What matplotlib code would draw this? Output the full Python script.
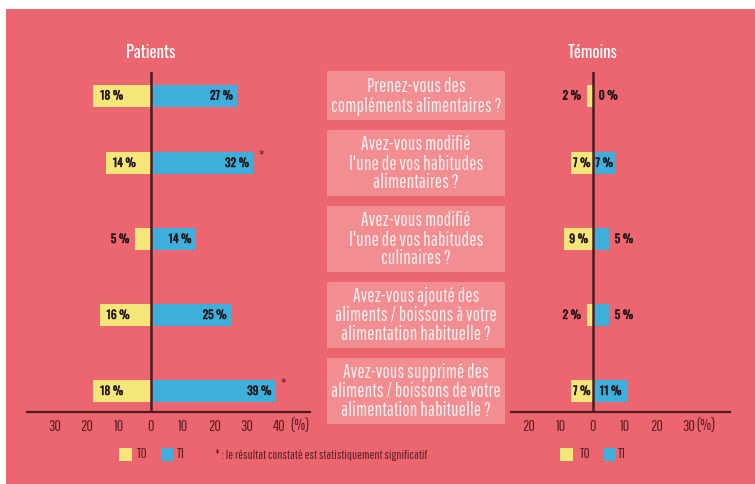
import matplotlib
matplotlib.use('Agg')
import matplotlib.pyplot as plt
import matplotlib.patheffects as pe
from matplotlib.patches import Rectangle

# data
questions = [
    "Prenez-vous des\ncompléments alimentaires ?",
    "Avez-vous modifié\nl'une de vos habitudes\nalimentaires ?",
    "Avez-vous modifié\nl'une de vos habitudes\nculinaires ?",
    "Avez-vous ajouté des\naliments / boissons à votre\nalimentation habituelle ?",
    "Avez-vous supprimé des\naliments / boissons de votre\nalimentation habituelle ?",
]
patients_t0 = [18, 14, 5, 16, 18]
patients_t1 = [27, 32, 14, 25, 39]
patients_sig = [False, True, False, False, True]
temoins_t0 = [2, 7, 9, 2, 7]
temoins_t1 = [0, 7, 5, 5, 11]

BG = '#EC6670'
BOX = '#F28E91'
YEL = '#F5E67A'
BLU = '#3EAEDB'
DARK = '#4B1C22'
TICK = '#5B1E25'
LABEL = '#24161A'

LIGHT = ['Pathway Gothic One', 'Roboto Condensed', 'DejaVu Sans']
BOLD = ['Oswald', 'Roboto Condensed', 'DejaVu Sans']

W, H = 755, 484
fig = plt.figure(figsize=(W / 100, H / 100), dpi=100)
fig.patch.set_facecolor('white')


def fx(x):
    return x / W


def fy(y):
    return 1 - y / H


fig.add_artist(Rectangle((fx(6), 0), 1 - fx(6), fy(9), transform=fig.transFigure,
                         facecolor=BG, edgecolor='none', zorder=0))

# question boxes stacked from the top, rows follow their centres
top = 71
rows = []
for q in questions:
    n = q.count('\n') + 1
    h = 17 * n + 15
    fig.add_artist(Rectangle((fx(327), fy(top + h)), fx(178), h / H, transform=fig.transFigure,
                             facecolor=BOX, edgecolor='none', zorder=1))
    fig.text(fx(416), fy(top + h / 2 + 1), q, ha='center', va='center', color='#FDEDED',
             fontsize=13.9, family=LIGHT, linespacing=1.0, zorder=2)
    rows.append(top + h / 2)
    top += h + 10

SCALE = 3.2  # px per %
bold_fx = [pe.withStroke(linewidth=0.3, foreground=LABEL)]


def bar_label(ax, y, v, side, pad_in):
    # side = -1 for T0 (left), +1 for T1 (right)
    end = side * v
    if v >= 12:
        x, ha = end - side * pad_in, ('left' if side < 0 else 'right')
    elif v >= 7:
        x, ha = end / 2, 'center'
    else:
        x, ha = end + side * 1.8, ('right' if side < 0 else 'left')
    ax.text(x, y, '%d %%' % v, ha=ha, va='center', fontsize=8.3,
            family=BOLD, color=LABEL, zorder=4, path_effects=bold_fx)


def panel(x0, x1, zero, t0, t1, sig, ticks, pct_x, title, pad_t0):
    ax = fig.add_axes([fx(x0), fy(412), fx(x1 - x0), (412 - 72) / H])
    ax.set_facecolor('none')
    ax.set_xlim((x0 - zero) / SCALE, (x1 - zero) / SCALE)
    ax.set_ylim(412, 72)
    for s in ['top', 'left', 'right']:
        ax.spines[s].set_visible(False)
    ax.spines['bottom'].set_color(DARK)
    ax.spines['bottom'].set_linewidth(1.6)
    ax.axvline(0, color=DARK, lw=1.8, zorder=3)
    ax.barh(rows, [-v for v in t0], height=22, color=YEL, zorder=2)
    ax.barh(rows, t1, height=22, color=BLU, zorder=2)
    for y, a, b, s in zip(rows, t0, t1, sig):
        bar_label(ax, y, a, -1, pad_t0)
        bar_label(ax, y, b, 1, 1.4)
        if s:
            ax.text(b + 1.5, y - 8, '*', ha='left', va='center', fontsize=8,
                    color=DARK, zorder=4)
    ax.set_yticks([])
    ax.set_xticks(ticks)
    ax.set_xticklabels([str(abs(t)) for t in ticks], family=LIGHT, fontsize=11.5, color=TICK)
    ax.tick_params(axis='x', length=0, pad=5)
    ax.text((pct_x - zero) / SCALE, 425, '(%)', ha='center', va='center',
            family=LIGHT, fontsize=11.5, color=TICK)
    fig.text(fx(zero), fy(53), title, ha='center', va='center', family=BOLD,
             fontsize=12, color='white')
    return ax


panel(27, 310, 151, patients_t0, patients_t1, patients_sig,
      [-30, -20, -10, 0, 10, 20, 30, 40], 300, 'Patients', 2.1)
panel(511, 730, 593, temoins_t0, temoins_t1, [False] * 5,
      [-20, -10, 0, 10, 20, 30], 706, 'Témoins', 0.9)


def legend(x_yel, x_t0, x_blu, x_t1):
    for xs, c in [(x_yel, YEL), (x_blu, BLU)]:
        fig.add_artist(Rectangle((fx(xs), fy(461)), fx(13), 13 / H, transform=fig.transFigure,
                                 facecolor=c, edgecolor='none', zorder=1))
    fig.text(fx(x_t0), fy(454), 'T0', ha='left', va='center', family=LIGHT,
             fontsize=11, color=TICK)
    fig.text(fx(x_t1), fy(454), 'T1', ha='left', va='center', family=LIGHT,
             fontsize=11, color=TICK)


legend(119, 137, 161, 177)
legend(560, 580, 603, 618)
fig.text(fx(215), fy(455), '* : le résultat constaté est statistiquement significatif',
         ha='left', va='center', family=LIGHT, fontsize=9.3, color=TICK)

fig.savefig('out.png', dpi=100, facecolor=fig.get_facecolor())
